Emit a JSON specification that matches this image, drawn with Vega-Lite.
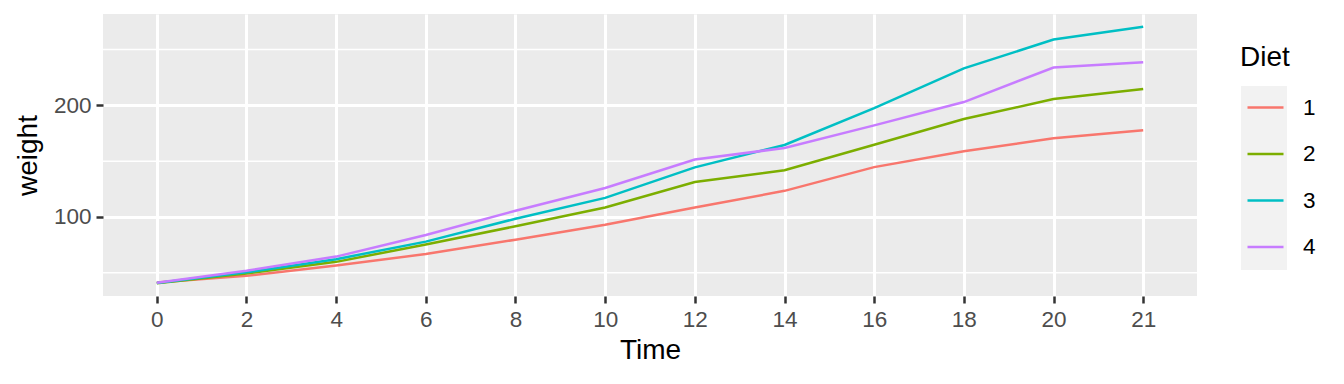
{
  "$schema": "https://vega.github.io/schema/vega-lite/v6.json",
  "width": 1094,
  "height": 282,
  "autosize": {"type": "none"},
  "padding": {"left": 103, "top": 14, "right": 147, "bottom": 88},
  "background": "white",
  "view": {"fill": "#ebebeb", "stroke": null},
  "datasets": {
    "chick": [
      {"Diet": "1", "Time": 0, "weight": 41.4},
      {"Diet": "1", "Time": 2, "weight": 47.25},
      {"Diet": "1", "Time": 4, "weight": 56.47},
      {"Diet": "1", "Time": 6, "weight": 66.79},
      {"Diet": "1", "Time": 8, "weight": 79.68},
      {"Diet": "1", "Time": 10, "weight": 93.05},
      {"Diet": "1", "Time": 12, "weight": 108.53},
      {"Diet": "1", "Time": 14, "weight": 123.39},
      {"Diet": "1", "Time": 16, "weight": 144.65},
      {"Diet": "1", "Time": 18, "weight": 158.94},
      {"Diet": "1", "Time": 20, "weight": 170.41},
      {"Diet": "1", "Time": 21, "weight": 177.75},
      {"Diet": "2", "Time": 0, "weight": 40.7},
      {"Diet": "2", "Time": 2, "weight": 49.4},
      {"Diet": "2", "Time": 4, "weight": 59.8},
      {"Diet": "2", "Time": 6, "weight": 75.4},
      {"Diet": "2", "Time": 8, "weight": 91.7},
      {"Diet": "2", "Time": 10, "weight": 108.5},
      {"Diet": "2", "Time": 12, "weight": 131.3},
      {"Diet": "2", "Time": 14, "weight": 141.9},
      {"Diet": "2", "Time": 16, "weight": 164.7},
      {"Diet": "2", "Time": 18, "weight": 187.7},
      {"Diet": "2", "Time": 20, "weight": 205.6},
      {"Diet": "2", "Time": 21, "weight": 214.7},
      {"Diet": "3", "Time": 0, "weight": 40.8},
      {"Diet": "3", "Time": 2, "weight": 50.4},
      {"Diet": "3", "Time": 4, "weight": 62.2},
      {"Diet": "3", "Time": 6, "weight": 77.9},
      {"Diet": "3", "Time": 8, "weight": 98.4},
      {"Diet": "3", "Time": 10, "weight": 117.1},
      {"Diet": "3", "Time": 12, "weight": 144.4},
      {"Diet": "3", "Time": 14, "weight": 164.5},
      {"Diet": "3", "Time": 16, "weight": 197.4},
      {"Diet": "3", "Time": 18, "weight": 233.1},
      {"Diet": "3", "Time": 20, "weight": 258.9},
      {"Diet": "3", "Time": 21, "weight": 270.3},
      {"Diet": "4", "Time": 0, "weight": 41.0},
      {"Diet": "4", "Time": 2, "weight": 51.8},
      {"Diet": "4", "Time": 4, "weight": 64.5},
      {"Diet": "4", "Time": 6, "weight": 83.9},
      {"Diet": "4", "Time": 8, "weight": 105.6},
      {"Diet": "4", "Time": 10, "weight": 126.0},
      {"Diet": "4", "Time": 12, "weight": 151.4},
      {"Diet": "4", "Time": 14, "weight": 161.8},
      {"Diet": "4", "Time": 16, "weight": 182.0},
      {"Diet": "4", "Time": 18, "weight": 202.9},
      {"Diet": "4", "Time": 20, "weight": 233.9},
      {"Diet": "4", "Time": 21, "weight": 238.6}
    ],
    "minor": [{"weight": 50}, {"weight": 150}, {"weight": 250}]
  },
  "layer": [
    {
      "data": {"name": "minor"},
      "mark": {"type": "rule", "color": "white", "strokeWidth": 1.5},
      "encoding": {
        "y": {"field": "weight", "type": "quantitative"}
      }
    },
    {
      "data": {"name": "chick"},
      "transform": [{"filter": "false"}],
      "mark": {"type": "square", "opacity": 1, "filled": true},
      "encoding": {
        "fill": {
          "field": "Diet",
          "type": "nominal",
          "scale": {"domain": ["1", "2", "3", "4"], "range": ["#f2f2f2", "#f2f2f2", "#f2f2f2", "#f2f2f2"]},
          "legend": {
            "orient": "none",
            "legendX": 1138,
            "legendY": 72,
            "title": null,
            "padding": 0,
            "symbolType": "square",
            "symbolSize": 2116,
            "symbolStrokeWidth": 0,
            "symbolOpacity": 1,
            "rowPadding": 0,
            "labelFontSize": 1,
            "labelOpacity": 0,
            "labelOffset": 0,
            "zindex": 0
          }
        }
      }
    },
    {
      "data": {"name": "chick"},
      "mark": {"type": "line", "strokeWidth": 2.5},
      "encoding": {
        "x": {
          "field": "Time",
          "type": "ordinal",
          "scale": {"type": "point", "padding": 0.6},
          "axis": {"title": "Time", "labelAngle": 0, "grid": true, "gridColor": "white", "gridWidth": 3}
        },
        "y": {
          "field": "weight",
          "type": "quantitative",
          "scale": {"domain": [29.22, 281.78], "nice": false, "zero": false},
          "axis": {"title": "weight", "values": [100, 200], "grid": true, "gridColor": "white", "gridWidth": 3, "titlePadding": 11}
        },
        "stroke": {
          "field": "Diet",
          "type": "nominal",
          "scale": {"range": ["#F8766D", "#7CAE00", "#00BFC4", "#C77CFF"]},
          "legend": {
            "orient": "none",
            "legendX": 1137,
            "legendY": 30,
            "title": "Diet",
            "padding": 0,
            "titleFontSize": 28,
            "titleFont": "Liberation Sans",
            "titleFontWeight": "normal",
            "titleColor": "black",
            "titlePadding": 16,
            "symbolType": "stroke",
            "symbolSize": 1296,
            "symbolStrokeWidth": 2.5,
            "symbolOffset": 6,
            "rowPadding": 15.5,
            "labelFontSize": 22.5,
            "labelFont": "Liberation Sans",
            "labelColor": "black",
            "labelOffset": 18,
            "zindex": 1
          }
        }
      }
    }
  ],
  "config": {
    "axis": {
      "domain": false,
      "tickColor": "#333333",
      "tickSize": 7,
      "tickWidth": 2.5,
      "labelColor": "#4d4d4d",
      "labelFontSize": 22.5,
      "labelFont": "Liberation Sans",
      "labelPadding": 5,
      "titleFont": "Liberation Sans",
      "titleFontSize": 28,
      "titleFontWeight": "normal",
      "titleColor": "black",
      "titlePadding": 6
    }
  }
}
